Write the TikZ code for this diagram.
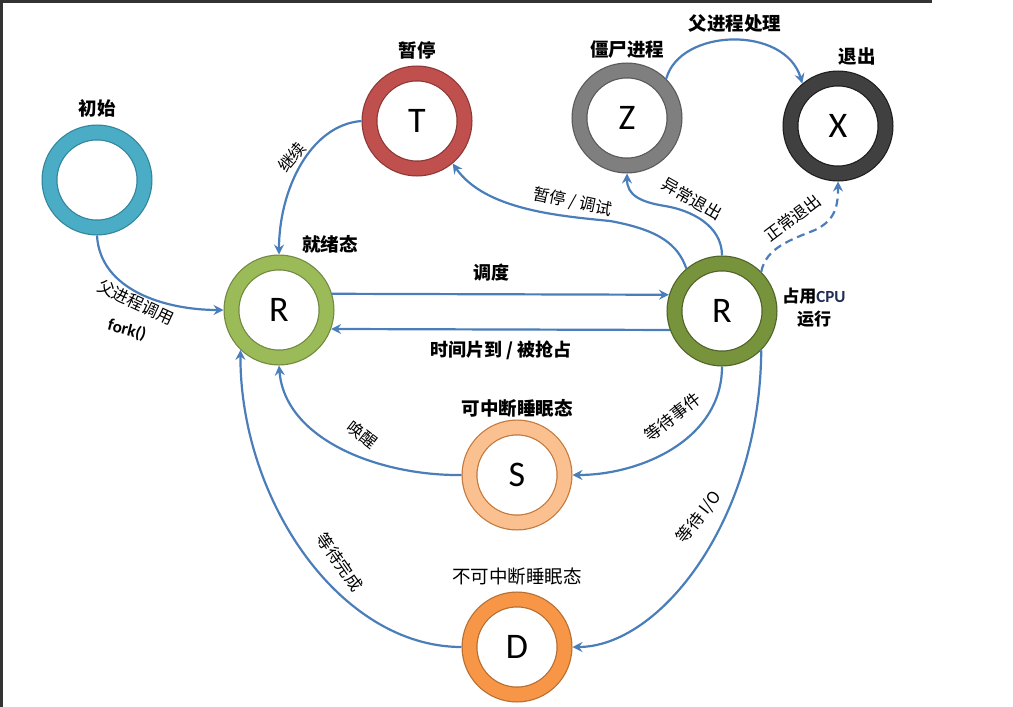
\documentclass[tikz,border=0pt]{standalone}
\usepackage{fontspec}
\setmainfont{Noto Sans CJK SC}
\newfontfamily\lat{Carlito}
\usetikzlibrary{arrows.meta}
\definecolor{initc}{HTML}{4BACC6}\definecolor{initd}{HTML}{31859C}
\definecolor{tc}{HTML}{C0504D}\definecolor{td}{HTML}{8C3836}
\definecolor{zc}{HTML}{7F7F7F}\definecolor{zd}{HTML}{595959}
\definecolor{xc}{HTML}{404040}\definecolor{xd}{HTML}{1E1E1E}
\definecolor{rrc}{HTML}{9BBB59}\definecolor{rrd}{HTML}{71893F}
\definecolor{rnc}{HTML}{77933C}\definecolor{rnd}{HTML}{4F6228}
\definecolor{sc}{HTML}{FAC090}\definecolor{sd}{HTML}{C4773A}
\definecolor{dc}{HTML}{F79646}\definecolor{dd}{HTML}{B66D31}
\definecolor{arrowblue}{HTML}{4A7EBB}
\definecolor{navy}{HTML}{1F2F54}
\definecolor{framec}{HTML}{333333}
\begin{document}
\begin{tikzpicture}[x=1pt,y=-1pt,
  ring/.style args={#1/#2}{circle, minimum size=95pt, inner sep=0pt, outer sep=8pt,
    draw=#2, double=#1, double distance=13.6pt, line width=1.2pt, fill=white,
    font=\lat\fontsize{36}{36}\selectfont},
  ttl/.style={font=\fontsize{18.5}{22}\selectfont\bfseries, inner sep=1pt},
  ttlr/.style={font=\fontsize{18.5}{22}\selectfont, inner sep=1pt},
  elbl/.style={font=\fontsize{18}{21}\selectfont\bfseries, inner sep=1pt},
  rlbl/.style={font=\fontsize{16.5}{19}\selectfont, inner sep=1pt},
  conn/.style={draw=arrowblue, line width=2.2pt, -{Stealth[length=10pt,width=10pt,inset=3.5pt]}}]
\useasboundingbox (0,0) rectangle (1013,707);
\draw[framec, line width=3pt] (1.5,707) -- (1.5,1) -- (932,1);

% states
\node[ring=initc/initd] (I) at (97,180) {};
\node[ring=tc/td] (T) at (417,121) {T};
\node[ring=zc/zd] (Z) at (627,118) {Z};
\node[ring=xc/xd] (X) at (838,126) {X};
\node[ring=rrc/rrd] (R1) at (279,310) {R};
\node[ring=rnc/rnd] (R2) at (722,311) {R};
\node[ring=sc/sd] (S) at (517,475) {S};
\node[ring=dc/dd] (D) at (517,647) {D};

% state titles
\node[ttl] (lI) at (97,108) {初始};
\node[ttl] (lT) at (417,50) {暂停};
\node[ttl] (lZ) at (627,50) {僵尸进程};
\node[ttl] (lX) at (857,57) {退出};
\node[ttl] (lR1) at (330,244) {就绪态};
\node[ttl, align=center, font=\fontsize{17}{23}\selectfont\bfseries] (lR2) at (814,308) {占用{\lat\bfseries\color{navy}CPU}\\运行};
\node[ttl] (lS) at (517,408) {可中断睡眠态};
\node[ttlr] (lD) at (517,576) {不可中断睡眠态};

% connectors
\draw[conn] (I.south) .. controls (100,290) and (165,310) .. (R1.west);
\draw[conn] (T.west) .. controls (310,125) and (279,190) .. (R1.north);
\draw[conn] (R1.17) -- (R2.163);
\draw[conn] (R2.-160) -- (R1.-20);
\draw[conn] (R2.130) .. controls (678,245) and (660,230) .. (610,221)
                     .. controls (560,216) and (485,210) .. (T.-50);
\draw[conn] (R2.north) .. controls (722,225) and (690,210) .. (665,206)
                       .. controls (640,202) and (627,195) .. (Z.south);
\draw[conn, dash pattern=on 8pt off 5pt] (R2.45) .. controls (766,248) and (790,240) .. (815,230)
                       .. controls (836,220) and (838,205) .. (X.south);
\draw[conn] (Z.45) .. controls (680,28) and (785,25) .. (X.130);
\draw[conn] (R2.south) .. controls (722,440) and (640,475) .. (S.east);
\draw[conn] (S.west) .. controls (380,476) and (285,440) .. (R1.south);
\draw[conn] (R2.-45) .. controls (760,520) and (660,647) .. (D.east);
\draw[conn] (D.west) .. controls (340,647) and (240,500) .. (R1.-134);

% connector labels
\node[ttl] (lZX) at (735,24) {父进程处理};
\node[elbl] (lsched) at (491,273) {调度};
\node[elbl] (lpre) at (501,350) {时间片到 / 被抢占};
\node[rlbl, rotate=50] (lcont) at (292,157) {继续};
\node[rlbl, rotate=-25] (lfork) at (136,302) {父进程调用};
\node[font=\lat\bfseries\fontsize{17}{19}\selectfont, rotate=-15, inner sep=1pt] (lfork2) at (127,330) {fork()};
\node[rlbl, rotate=-12] (lstop) at (573,202) {暂停 / 调试};
\node[rlbl, rotate=-30] (labn) at (692,199) {异常退出};
\node[rlbl, rotate=37] (lnorm) at (793,218) {正常退出};
\node[rlbl, rotate=38] (levt) at (673,417) {等待事件};
\node[rlbl, rotate=-38] (lwake) at (362,435) {唤醒};
\node[rlbl, rotate=52] (lio) at (699,517) {等待 I/O};
\node[rlbl, rotate=-55] (ldone) at (340,562) {等待完成};
\end{tikzpicture}
\end{document}
